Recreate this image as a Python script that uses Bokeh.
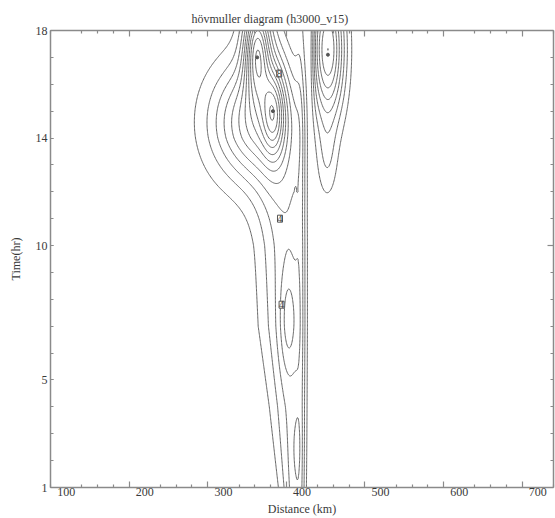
import numpy as np
from bokeh.plotting import figure
from bokeh.models import (LinearAxis, FixedTicker, Range1d, LabelSet, ColumnDataSource,
                          CustomJSTickFormatter)
from bokeh.embed import file_html
from bokeh.resources import INLINE

# ---- data ----
title = "hövmuller diagram (h3000_v15)"
x_label_values = [100, 200, 300, 400, 500, 600, 700]
x_long_ticks = [180, 280, 380, 480, 580, 680]
y_label_values = [1, 5, 10, 14, 18]
contour_levels = [1, 2, 3, 4, 5, 6, 7, 8, 9, 10, 11, 12, 13]

# main ridge (left of the sharp band near 400 km), estimated at these times
ridge_t      = [1, 4, 7, 10, 12, 14, 16, 18]
ridge_center = [391, 389, 385, 383, 378, 370, 365, 360]
ridge_amp    = [3.4, 3.3, 3.6, 3.7, 3.7, 3.0, 2.5, 2.0]
ridge_width  = [19, 28, 36, 38, 40, 45, 40, 35]

# local features left of the band
left_x   = [393, 383, 398, 335, 364, 343]
left_t   = [2.5, 7.2, 9.0, 14.6, 15.0, 17.3]
left_amp = [0.75, 2.0, 0.8, 5.5, 5.0, 8.0]
left_sx  = [6, 11, 6, 55, 14, 16]
left_st  = [1.3, 1.9, 30, 2.2, 1.6, 1.8]
# features right of the band
right_x   = [433, 432]
right_t   = [17.3, 13.2]
right_amp = [8.0, 1.6]
right_sx  = [21, 13]
right_st  = [2.6, 1.6]
band_edge_km = 405.5
gap_edge_km = 413.0

# maxima marks and boxed contour labels
max_x = [343, 363, 433]
max_t = [17.0, 15.0, 17.1]
lab_x = [371, 372, 374]
lab_t = [16.4, 11.0, 7.8]
lab_text = ["8", "4", "4"]

# ---- field ----
xs = np.linspace(80, 720, 641)
ts = np.linspace(1, 18, 341)
X, T = np.meshgrid(xs, ts)

def blobs(xc, tc, a, sx, st):
    z = np.zeros_like(X)
    for i in range(len(xc)):
        z += a[i] * np.exp(-((X - xc[i]) / sx[i]) ** 2 - ((T - tc[i]) / st[i]) ** 2)
    return z

rc = np.interp(T, ridge_t, ridge_center)
ra = np.interp(T, ridge_t, ridge_amp)
rw = np.interp(T, ridge_t, ridge_width)
ridge = ra * np.exp(-((X - rc) / rw) ** 2)

cut_l = 1.0 / (1.0 + np.exp((X - band_edge_km) / 3.0))
cut_r = 1.0 / (1.0 + np.exp(-(X - gap_edge_km) / 2.0))
Z = (ridge + blobs(left_x, left_t, left_amp, left_sx, left_st)) * cut_l + \
    blobs(right_x, right_t, right_amp, right_sx, right_st) * cut_r

# ---- figure ----
FONT = "Liberation Serif"
AX = "#8a8a8a"
TXT = "#3a3a3a"

p = figure(width=555, height=518, x_range=Range1d(80, 720), y_range=Range1d(1, 18),
           output_backend="svg", toolbar_location=None,
           x_axis_location=None, y_axis_location=None,
           min_border_left=50, min_border_right=2, min_border_top=30, min_border_bottom=30)
p.outline_line_color = None
p.grid.visible = False
p.title.text = title
p.title.text_font = FONT
p.title.text_font_size = "12px"
p.title.text_font_style = "normal"
p.title.text_color = TXT
p.title.align = "left"
p.title.offset = 141

x_minor = [v for v in range(80, 721, 20) if v % 100 != 0 and v not in x_long_ticks]
blank = CustomJSTickFormatter(code="return ''")

def tick_axis(ticks, minor, major_in):
    return LinearAxis(ticker=FixedTicker(ticks=ticks, minor_ticks=minor),
                      formatter=blank,
                      major_tick_in=major_in, major_tick_out=0,
                      minor_tick_in=3, minor_tick_out=0,
                      major_label_text_font_size="1px", major_label_standoff=0,
                      axis_line_color=AX, axis_line_width=1.5,
                      major_tick_line_color=AX, minor_tick_line_color=AX,
                      major_tick_line_width=1.2, minor_tick_line_width=1.2)

p.add_layout(tick_axis(x_long_ticks, x_minor, 6), "below")
p.add_layout(tick_axis(x_long_ticks, x_minor, 6), "above")
p.add_layout(tick_axis([10], list(range(1, 19)), 6), "right")

xl = LinearAxis(ticker=FixedTicker(ticks=x_label_values, minor_ticks=[]),
                major_tick_in=0, major_tick_out=0, axis_line_color=None,
                major_label_standoff=0,
                major_label_text_font=FONT, major_label_text_font_size="12px",
                major_label_text_color=TXT,
                axis_label="Distance (km)", axis_label_text_font=FONT,
                axis_label_text_font_size="12px", axis_label_text_font_style="normal",
                axis_label_text_color=TXT, axis_label_standoff=3)
p.add_layout(xl, "below")

yl = LinearAxis(ticker=FixedTicker(ticks=y_label_values, minor_ticks=list(range(1, 19))),
                major_tick_in=3, major_tick_out=0, minor_tick_in=3, minor_tick_out=0,
                axis_line_color=AX, axis_line_width=1.5,
                major_tick_line_color=AX, minor_tick_line_color=AX,
                major_tick_line_width=1.2, minor_tick_line_width=1.2,
                major_label_standoff=3,
                major_label_text_font=FONT, major_label_text_font_size="12px",
                major_label_text_color=TXT,
                axis_label="Time(hr)", axis_label_text_font=FONT,
                axis_label_text_font_size="12px", axis_label_text_font_style="normal",
                axis_label_text_color=TXT, axis_label_standoff=10)
p.add_layout(yl, "left")

p.contour(x=xs, y=ts, z=Z, levels=contour_levels, line_color="#666666", line_width=1)

p.scatter(x=max_x, y=max_t, size=3, color="#555555")
src = ColumnDataSource(dict(x=lab_x, y=lab_t, text=lab_text))
p.add_layout(LabelSet(x="x", y="y", text="text", source=src, text_font=FONT,
                      text_font_size="10px", text_color=TXT, text_align="center",
                      text_baseline="middle", background_fill_color="white",
                      border_line_color="#555555", border_line_width=1))

open("out.html", "w").write(file_html(p, INLINE))
